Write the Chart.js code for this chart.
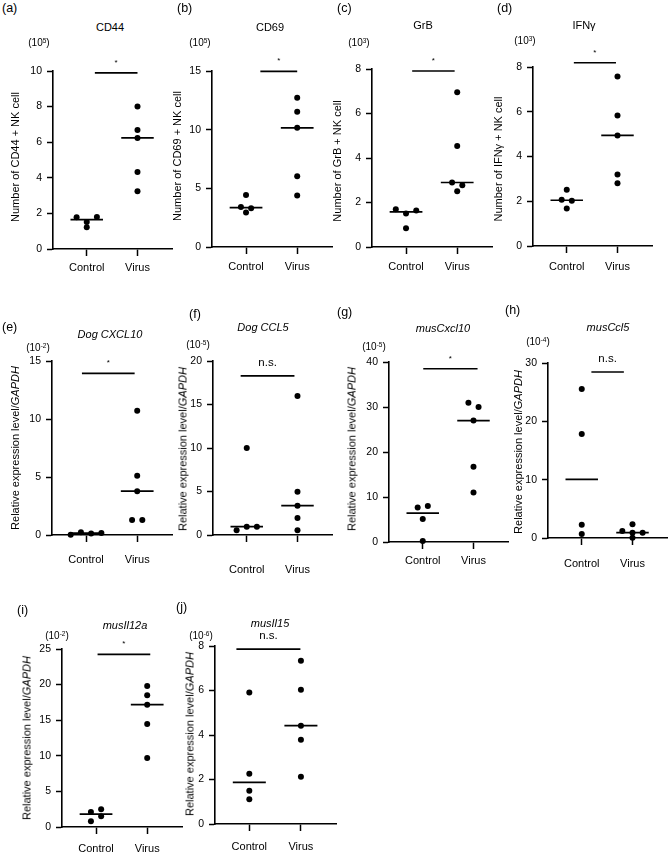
<!DOCTYPE html>
<html><head><meta charset="utf-8">
<script src="https://cdn.jsdelivr.net/npm/chart.js@4.4.1/dist/chart.umd.min.js"></script>
<style>
html,body{margin:0;padding:0;background:#fff;}
#wrap{position:relative;width:669px;height:854px;overflow:hidden;font-family:"Liberation Sans",Arial,Helvetica,sans-serif;color:#000;}
canvas{position:absolute;}
.t{position:absolute;white-space:nowrap;line-height:1;}
.c{transform:translate(-50%,-50%);}
.l{transform:translateY(-50%);font-size:12.5px;}
.ttl{font-size:11px;}
.exp{font-size:10px;}
.exp sup{font-size:0.65em;vertical-align:0.5em;line-height:0;}
.yl{transform:translate(-50%,-50%) rotate(-90deg);font-size:11px;}
</style></head><body><div id="wrap"></div>
<script>
// ---------- data ----------
const categories = ['Control', 'Virus'];

const cd44Control = [1.78, 1.52, 1.22, 1.80];
const cd44Virus   = [8.0, 6.69, 6.24, 4.33, 3.24];
const cd44Ticks   = [0, 2, 4, 6, 8, 10];

const cd69Control = [4.44, 3.40, 3.31, 2.94];
const cd69Virus   = [12.71, 11.52, 10.16, 6.03, 4.39];
const cd69Ticks   = [0, 5, 10, 15];

const grbControl = [1.70, 1.51, 1.64, 0.84];
const grbVirus   = [6.95, 4.54, 2.90, 2.77, 2.51];
const grbTicks   = [0, 2, 4, 6, 8];

const ifngControl = [2.51, 2.07, 2.02, 1.68];
const ifngVirus   = [7.58, 5.83, 4.94, 3.20, 2.81];
const ifngTicks   = [0, 2, 4, 6, 8];

const dogCxcl10Control = [0.03, 0.23, 0.14, 0.17];
const dogCxcl10Virus   = [10.72, 5.10, 3.78, 1.30, 1.30];
const dogCxcl10Ticks   = [0, 5, 10, 15];

const dogCcl5Control = [0.54, 0.96, 0.96, 10.0];
const dogCcl5Virus   = [15.98, 4.98, 3.37, 1.95, 0.54];
const dogCcl5Ticks   = [0, 5, 10, 15, 20];

const musCxcl10Control = [7.69, 7.98, 5.10, 0.22];
const musCxcl10Virus   = [30.97, 30.0, 26.98, 16.7, 11.0];
const musCxcl10Ticks   = [0, 10, 20, 30, 40];

const musCcl5Control = [25.55, 17.85, 2.28, 0.68];
const musCcl5Virus   = [2.34, 1.20, 0.92, 0.91, 0.06];
const musCcl5Ticks   = [0, 10, 20, 30];

const musIl12aControl = [2.1, 2.5, 0.8, 1.5];
const musIl12aVirus   = [19.8, 18.49, 17.18, 14.47, 9.69];
const musIl12aTicks   = [0, 5, 10, 15, 20, 25];

const musIl15Control = [5.91, 2.26, 1.49, 1.11];
const musIl15Virus   = [7.34, 6.03, 4.42, 3.79, 2.12];
const musIl15Ticks   = [0, 2, 4, 6, 8];

const sigLabels = ['*', '*', '*', '*', '*', 'n.s.', '*', 'n.s.', '*', 'n.s.'];

// ---------- layout ----------
const GAP = 'Relative expression level/<i>GAPDH</i>';
const panels = [
 {letter:'(a)', title:'CD44', it:false, exp:'5', ylab:'Number of CD44 + NK cell', ctrl:cd44Control, vir:cd44Virus, ticks:cd44Ticks,
  L:53,R:172,T:71,B:249, xlab:18.5, lp:[2,8], tp:[110,27], ep:[39,43], yp:[15,157], bar:[9.9,1.16,2.0]},
 {letter:'(b)', title:'CD69', it:false, exp:'5', ylab:'Number of CD69 + NK cell', ctrl:cd69Control, vir:cd69Virus, ticks:cd69Ticks,
  L:212,R:332,T:71,B:247, xlab:19.5, lp:[177,8], tp:[270,27], ep:[200,43], yp:[177,156], bar:[14.97,1.28,2.0]},
 {letter:'(c)', title:'GrB', it:false, exp:'3', ylab:'Number of GrB + NK cell', ctrl:grbControl, vir:grbVirus, ticks:grbTicks,
  L:372,R:492,T:69,B:247, xlab:19.5, lp:[337,8], tp:[423,25], ep:[359,43], yp:[337,161], bar:[7.91,1.12,1.95]},
 {letter:'(d)', title:'IFN\u03B3', it:false, exp:'3', ylab:'Number of IFN\u03B3 + NK cell', ctrl:ifngControl, vir:ifngVirus, ticks:ifngTicks,
  L:533,R:652,T:67,B:246, xlab:20.5, lp:[497,8], tp:[584,25], ep:[525,41], yp:[498,159], bar:[8.19,1.14,1.97]},
 {letter:'(e)', title:'Dog CXCL10', it:true, exp:'-2', ylab:GAP, ctrl:dogCxcl10Control, vir:dogCxcl10Virus, ticks:dogCxcl10Ticks,
  L:52,R:172,T:361,B:535, xlab:25, lp:[2,327], tp:[110,334], ep:[38,348], yp:[15,448], bar:[13.94,0.92,1.95]},
 {letter:'(f)', title:'Dog CCL5', it:true, exp:'-5', ylab:GAP, ctrl:dogCcl5Control, vir:dogCcl5Virus, ticks:dogCcl5Ticks,
  L:213,R:332,T:361,B:535, xlab:35, lp:[189,314], tp:[263,327], ep:[198,345], yp:[183,449], bar:[18.28,0.88,1.94]},
 {letter:'(g)', title:'musCxcl10', it:true, exp:'-5', ylab:GAP, ctrl:musCxcl10Control, vir:musCxcl10Virus, ticks:musCxcl10Ticks,
  L:389,R:508,T:362,B:542, xlab:19, lp:[337,312], tp:[443,328], ep:[374,347], yp:[352,449], bar:[38.5,1.01,2.08]},
 {letter:'(h)', title:'musCcl5', it:true, exp:'-4', ylab:GAP, ctrl:musCcl5Control, vir:musCcl5Virus, ticks:musCcl5Ticks,
  L:548,R:667,T:363,B:538, xlab:26, lp:[505,310], tp:[608,327], ep:[538,342], yp:[518,452], bar:[28.46,1.19,1.83]},
 {letter:'(i)', title:'musIl12a', it:true, exp:'-2', ylab:GAP, ctrl:musIl12aControl, vir:musIl12aVirus, ticks:musIl12aTicks,
  L:62,R:182,T:649,B:827, xlab:22, lp:[17,610], tp:[125,625], ep:[57,636], yp:[27,738], bar:[24.25,1.03,2.06]},
 {letter:'(j)', title:'musIl15', it:true, exp:'-6', ylab:GAP, ctrl:musIl15Control, vir:musIl15Virus, ticks:musIl15Ticks,
  L:215,R:336,T:646,B:824, xlab:23, lp:[176,607], tp:[270,623], ep:[201,636], yp:[190,734], bar:[7.86,0.75,1.99]}
];

const XMIN = 0.335, XMAX = 2.68, YW = 40, PT = 30, PR = 4, XH = 50;
const FONT = '"Liberation Sans", Arial, Helvetica, sans-serif';
Chart.defaults.font.family = FONT;
Chart.defaults.color = '#000';

// beeswarm-like horizontal spreading of points that sit at nearly the same height
function swarm(vals, center, pxPerUnit) {
  const idx = vals.map((v, i) => i).sort((a, b) => vals[b] - vals[a]);
  const off = new Array(vals.length).fill(0);
  let i = 0;
  while (i < idx.length) {
    const row = [idx[i]];
    let j = i + 1;
    while (j < idx.length && (vals[idx[i]] - vals[idx[j]]) * pxPerUnit < 5.2) { row.push(idx[j]); j++; }
    row.sort((a, b) => a - b);
    row.forEach((k, r) => { off[k] = (r - (row.length - 1) / 2) * 0.2; });
    i = j;
  }
  return vals.map((v, k) => ({x: center + off[k], y: v}));
}
function median(vals) {
  const s = [...vals].sort((a, b) => a - b), n = s.length;
  return n % 2 ? s[(n - 1) / 2] : (s[n / 2 - 1] + s[n / 2]) / 2;
}
function medLine(vals, c) {
  const m = median(vals);
  return [{x: c - 0.32, y: m}, {x: c + 0.32, y: m}];
}

const sigPlugin = {
  id: 'sig',
  afterDatasetsDraw(chart, args, o) {
    const {ctx, scales: {x, y}} = chart;
    const px = (x.getPixelForValue(o.x0) + x.getPixelForValue(o.x1)) / 2;
    const py = y.getPixelForValue(o.y);
    ctx.save();
    ctx.fillStyle = '#000'; ctx.textAlign = 'center'; ctx.textBaseline = 'alphabetic';
    if (o.label === '*') { ctx.font = '8px ' + FONT; ctx.fillText('*', px, py - 8); }
    else { ctx.font = '11.5px ' + FONT; ctx.fillText(o.label, px, py - 10); }
    ctx.restore();
  }
};

const wrap = document.getElementById('wrap');
function addText(cls, html, x, y) {
  const d = document.createElement('div');
  d.className = 't ' + cls; d.innerHTML = html;
  d.style.left = x + 'px'; d.style.top = y + 'px';
  wrap.appendChild(d);
  return d;
}

panels.forEach((p, pi) => {
  const w = YW + (p.R - p.L) + PR, h = PT + (p.B - p.T) + XH;
  const cv = document.createElement('canvas');
  cv.width = w; cv.height = h;
  cv.style.left = (p.L - YW) + 'px'; cv.style.top = (p.T - PT) + 'px';
  cv.style.width = w + 'px'; cv.style.height = h + 'px';
  wrap.appendChild(cv);
  const ymax = p.ticks[p.ticks.length - 1];
  const ppu = (p.B - p.T) / ymax;
  const dot = {pointRadius: 3, pointHoverRadius: 3, pointBackgroundColor: '#000', pointBorderWidth: 0, borderColor: '#000', showLine: false, clip: false};
  const line = {showLine: true, borderColor: '#000', borderWidth: 1.7, pointRadius: 0, pointHoverRadius: 0, clip: false};
  const bar = p.bar;
  const gridOpt = (len) => ({display: true, drawOnChartArea: false, drawTicks: true, tickLength: len, tickWidth: 1.5, tickColor: '#000', color: '#000'});
  new Chart(cv, {
    type: 'scatter',
    data: {datasets: [
      Object.assign({data: swarm(p.ctrl, 1, ppu)}, dot),
      Object.assign({data: swarm(p.vir, 2, ppu)}, dot),
      Object.assign({data: medLine(p.ctrl, 1)}, line),
      Object.assign({data: medLine(p.vir, 2)}, line),
      Object.assign({data: [{x: bar[1], y: bar[0]}, {x: bar[2], y: bar[0]}]}, line)
    ]},
    options: {
      responsive: false, animation: false, devicePixelRatio: 1, events: [],
      layout: {padding: {top: PT, right: PR, left: 0, bottom: 0}},
      plugins: {legend: {display: false}, tooltip: {enabled: false},
        sig: {label: sigLabels[pi], y: bar[0], x0: bar[1], x1: bar[2]}},
      scales: {
        x: {type: 'linear', min: XMIN, max: XMAX,
          afterFit: s => { s.height = XH; },
          afterBuildTicks: s => { s.ticks = categories.map((c, i) => ({value: i + 1})); },
          ticks: {callback: v => categories[Math.round(v) - 1], padding: p.xlab - 7 - 6.6,
                  font: {size: 11}, color: '#000', autoSkip: false, maxRotation: 0},
          grid: gridOpt(7), border: {display: true, color: '#000', width: 1.6}},
        y: {type: 'linear', min: 0, max: ymax,
          afterFit: s => { s.width = YW; },
          afterBuildTicks: s => { s.ticks = p.ticks.map(v => ({value: v})); },
          ticks: {padding: 5, font: {size: 10.5}, color: '#000'},
          grid: gridOpt(6), border: {display: true, color: '#000', width: 1.6}}
      }
    },
    plugins: [sigPlugin]
  });
  addText('l', p.letter, p.lp[0], p.lp[1]);
  addText('c ttl', p.it ? '<i>' + p.title + '</i>' : p.title, p.tp[0], p.tp[1]);
  addText('c exp', '(10<sup>' + p.exp + '</sup>)', p.ep[0], p.ep[1]);
  addText('yl', p.ylab, p.yp[0], p.yp[1]);
});
</script></body></html>
